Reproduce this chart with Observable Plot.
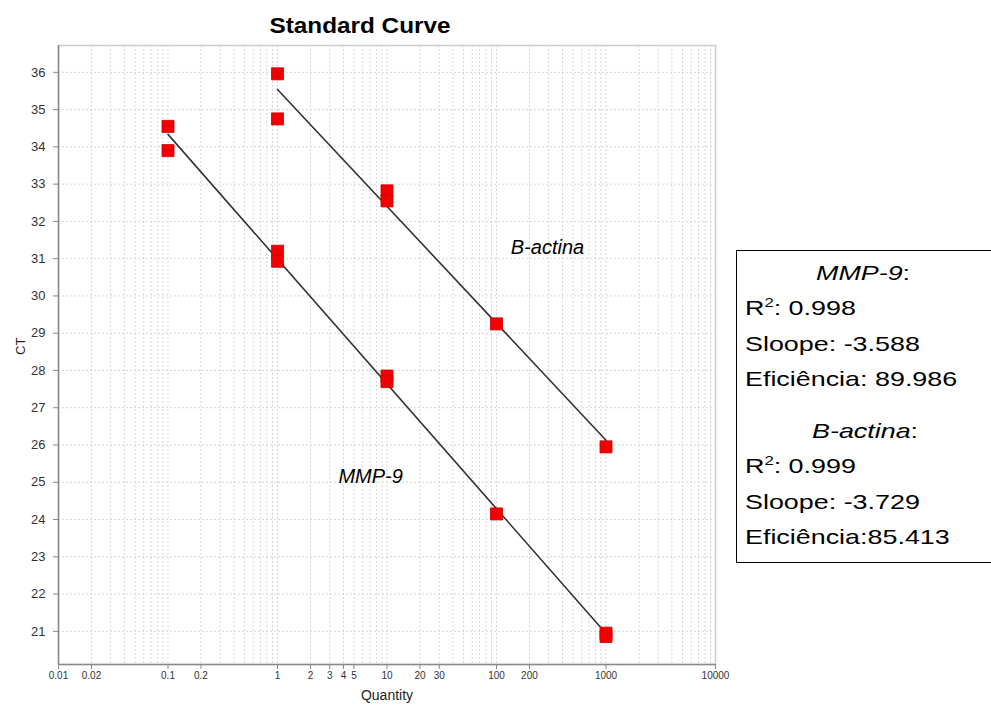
<!DOCTYPE html>
<html>
<head>
<meta charset="utf-8">
<script src="https://cdn.jsdelivr.net/npm/d3@7"></script>
<script src="https://cdn.jsdelivr.net/npm/@observablehq/plot@0.6"></script>
<style>
  html, body { margin: 0; padding: 0; background: #fff; }
  body { font-family: "Liberation Sans", Arial, Helvetica, sans-serif; }
  #wrap { position: relative; width: 991px; height: 706px; overflow: hidden; background: #fff; }
  #chart { position: absolute; left: 0; top: 0; }
  #title { position: absolute; left: 210px; top: 13px; width: 300px; text-align: center;
           font-weight: bold; font-size: 22.5px; color: #000; transform: scaleX(1.08); transform-origin: center; }
  #box { position: absolute; left: 736px; top: 250px; width: 280px; height: 313px;
         border: 1.5px solid #000; box-sizing: border-box; background: #fff; }
  .bl, .bh { position: absolute; font-size: 21px; line-height: 24px; color: #000;
        white-space: nowrap; transform-origin: left center; transform: scaleX(1.28); }
  .bh i { font-style: italic; }
  sup { font-size: 13px; line-height: 0; vertical-align: 8px; }
</style>
</head>
<body>
<div id="wrap">
  <div id="chart"></div>
  <div id="title"></div>
  <div id="box"></div>
</div>
<script>
// ---------------- data ----------------
const chartTitle = "Standard Curve";
const xLabel = "Quantity";
const yLabel = "CT";

const mmpQty = [0.1, 0.1, 1, 1, 10, 10, 100, 1000, 1000];
const mmpCt  = [34.55, 33.9, 31.2, 30.93, 27.85, 27.7, 24.15, 20.95, 20.86];

const bactQty = [1, 1, 10, 10, 100, 1000];
const bactCt  = [35.96, 34.75, 32.82, 32.55, 29.25, 25.95];

const seriesNames = ["MMP-9", "B-actina"];
const labelQty = [3.6, 135];
const labelCt  = [25.15, 31.3];

const xTicks = [0.01, 0.02, 0.1, 0.2, 1, 2, 3, 4, 5, 10, 20, 30, 100, 200, 1000, 10000];
const xTickLabels = ["0.01", "0.02", "0.1", "0.2", "1", "2", "3", "4", "5", "10", "20", "30", "100", "200", "1000", "10000"];
const yTicks = [21, 22, 23, 24, 25, 26, 27, 28, 29, 30, 31, 32, 33, 34, 35, 36];

const gridDecades = [0.01, 0.1, 1, 10, 100, 1000];
const gridMultiples = [1, 2, 3, 4, 5, 6, 7, 8, 9];

const statNames = ["MMP-9", "B-actina"];
const statR2 = ["0.998", "0.999"];
const statSlope = ["-3.588", "-3.729"];
const statEff = [": 89.986", ":85.413"];

// ---------------- build ----------------
const points = [
  ...mmpQty.map((q, i) => ({series: "MMP-9", qty: q, ct: mmpCt[i]})),
  ...bactQty.map((q, i) => ({series: "B-actina", qty: q, ct: bactCt[i]}))
];

// least-squares fit of Ct against log10(quantity), per series
function fit(qs, cs, name) {
  const lx = qs.map(Math.log10);
  const mx = d3.mean(lx), my = d3.mean(cs);
  const sxy = d3.sum(lx, (v, i) => (v - mx) * (cs[i] - my));
  const sxx = d3.sum(lx, v => (v - mx) ** 2);
  const b = sxy / sxx, a = my - b * mx;
  const q0 = d3.min(qs), q1 = d3.max(qs);
  return [q0, q1].map(q => ({series: name, qty: q, ct: a + b * Math.log10(q)}));
}
const fitLines = [...fit(mmpQty, mmpCt, "MMP-9"), ...fit(bactQty, bactCt, "B-actina")];

const xGrid = gridDecades.flatMap(d => gridMultiples.map(m => d * m));
const labels = seriesNames.map((n, i) => ({name: n, qty: labelQty[i], ct: labelCt[i]}));
const xTickData = xTicks.map((v, i) => ({v, label: xTickLabels[i]}));

const W = 991, H = 706, mL = 58, mR = 276, mT = 45, mB = 42;
const xDomain = [0.01, 10000];
const yDomain = [20.11, 36.72];
const tickLen = (yDomain[1] - yDomain[0]) * 5 / (H - mT - mB); // 5px in data units

const plot = Plot.plot({
  width: W,
  height: H,
  marginLeft: mL,
  marginRight: mR,
  marginTop: mT,
  marginBottom: mB,
  style: {fontFamily: "'Liberation Sans', Arial, sans-serif", background: "transparent", overflow: "visible"},
  x: {type: "log", domain: xDomain, axis: null},
  y: {domain: yDomain, axis: null},
  marks: [
    Plot.ruleX(xGrid, {stroke: "#d2d2d2", strokeWidth: 0.9, strokeDasharray: "2,2"}),
    Plot.ruleY(yTicks, {stroke: "#d2d2d2", strokeWidth: 0.9, strokeDasharray: "2,2"}),
    Plot.frame({stroke: "#cccccc", strokeWidth: 1.5}),
    Plot.ruleX([xDomain[0]], {stroke: "#8a8a8a", strokeWidth: 1.5}),
    Plot.ruleY([yDomain[0]], {stroke: "#8a8a8a", strokeWidth: 1.5}),
    Plot.ruleX(xTickData, {x: "v", y1: yDomain[0], y2: yDomain[0] - tickLen, stroke: "#888", strokeWidth: 1}),
    Plot.text(xTickData, {x: "v", text: "label", frameAnchor: "bottom", dy: 14, fontSize: 10, fill: "#333"}),
    Plot.axisY(yTicks, {
      tickFormat: d => String(d),
      tickSize: 5, tickPadding: 8, fontSize: 13, stroke: "#888", fill: "#333", label: null
    }),
    Plot.line(fitLines, {x: "qty", y: "ct", z: "series", stroke: "#333", strokeWidth: 1.6}),
    Plot.dot(points, {x: "qty", y: "ct", symbol: "square", r: 6.8, fill: "#f00000", stroke: "#cc0000", strokeWidth: 0.8}),
    Plot.text(labels, {x: "qty", y: "ct", text: "name", textAnchor: "start", fontSize: 20,
                       fontStyle: "italic", fill: "#000", ariaLabel: "series-label"}),
    Plot.text([xLabel], {frameAnchor: "bottom", dy: 35, fontSize: 14, fill: "#222"}),
    Plot.text([yLabel], {frameAnchor: "left", dx: -38, rotate: -90, fontSize: 13, fill: "#222"})
  ]
});
document.getElementById("chart").appendChild(plot);

// widen the italic series labels slightly, as in the reference
const widths = {"B-actina": 88, "MMP-9": 78};
d3.select(plot).selectAll('g[aria-label="series-label"] text').each(function() {
  const t = this.textContent;
  if (widths[t]) { this.setAttribute("textLength", widths[t]); this.setAttribute("lengthAdjust", "spacingAndGlyphs"); }
});

document.getElementById("title").textContent = chartTitle;

// stats box: [top, left] of each line, in box pixels
const box = document.getElementById("box");
const lineSpec = [
  [[10, 79], [45, 8], [81, 8], [116, 8]],
  [[168, 75], [203, 8], [239, 8], [274, 8]]
];
function addLine(cls, html, spec) {
  const d = document.createElement("div");
  d.className = cls; d.innerHTML = html;
  d.style.top = spec[0] + "px"; d.style.left = spec[1] + "px";
  box.appendChild(d);
}
statNames.forEach((n, i) => {
  const s = lineSpec[i];
  addLine("bh", "<i>" + n + "</i>:", s[0]);
  addLine("bl", "R<sup>2</sup>: " + statR2[i], s[1]);
  addLine("bl", "Sloope: " + statSlope[i], s[2]);
  addLine("bl", "Eficiência" + statEff[i], s[3]);
});
</script>
</body>
</html>
